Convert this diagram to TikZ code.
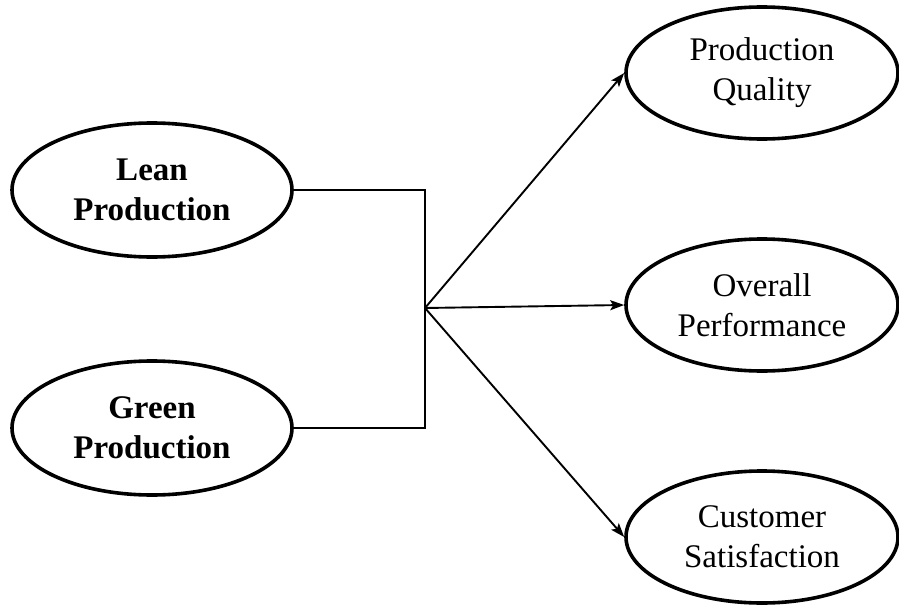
\documentclass[tikz,border=0pt]{standalone}
\usepackage{fontspec}
\setmainfont{Liberation Serif}
\usetikzlibrary{shapes.geometric,arrows.meta}
\begin{document}
\begin{tikzpicture}[x=1pt,y=-1pt,
  construct/.style={ellipse,draw,line width=3.6pt,inner sep=0pt,align=center,
    font=\fontsize{33}{40}\selectfont},
  source/.style={construct,minimum width=280pt,minimum height=134pt,
    font=\fontsize{33}{40}\selectfont\bfseries},
  outcome/.style={construct,minimum width=272pt,minimum height=132pt},
  link/.style={line width=1.9pt},
  arrowlink/.style={link,-{Stealth[length=14pt,width=10pt,inset=3pt]}}]
\useasboundingbox (0,0) rectangle (899,607);

% independent constructs
\node[source] (lean)  at (152,190) {Lean\\Production};
\node[source] (green) at (152,428) {Green\\Production};

% dependent constructs
\node[outcome] (pq) at (762,73)  {Production\\Quality};
\node[outcome] (op) at (762,305) {Overall\\Performance};
\node[outcome] (cs) at (762,537) {Customer\\Satisfaction};

% joining bracket and the paths out of it
\coordinate (hub) at (425,308);
\draw[link] (lean.east) -| (hub) |- (green.east);
\draw[arrowlink] (hub) -- (pq.west);
\draw[arrowlink] (hub) -- (op.west);
\draw[arrowlink] (hub) -- (cs.west);
\end{tikzpicture}
\end{document}
